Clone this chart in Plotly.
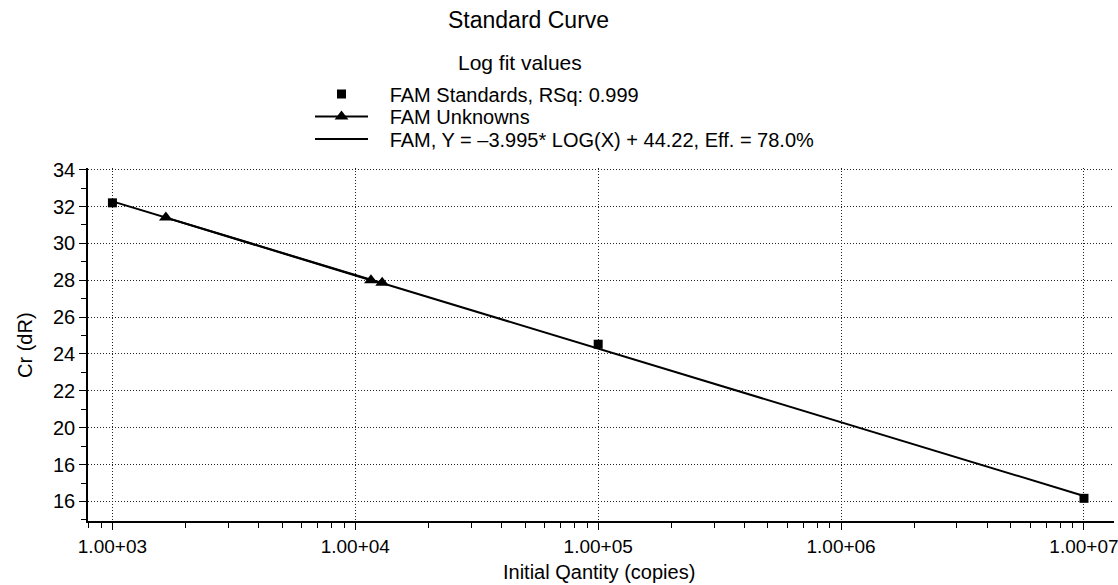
import plotly.graph_objects as go

# ---- data ----
standards_x = [1e3, 1e5, 1e7]
standards_y = [32.2, 24.53, 16.17]

unknowns_x = [1.66e3, 1.16e4, 1.29e4]
unknowns_y = [31.4, 28.0, 27.87]

fit_x = [1e3, 1e7]
fit_y = [32.28, 16.30]

x_tickvals = [1e3, 1e4, 1e5, 1e6, 1e7]
x_ticktext = ["1.00+03", "1.00+04", "1.00+05", "1.00+06", "1.00+07"]
x_minor = [m * d for d in [1e2, 1e3, 1e4, 1e5, 1e6, 1e7] for m in range(2, 10)]

y_tickvals = [16, 18, 20, 22, 24, 26, 28, 30, 32, 34]
y_ticktext = ["16", "16", "20", "22", "24", "26", "28", "30", "32", "34"]
y_minor = [15, 17, 19, 21, 23, 25, 27, 29, 31, 33]

FONT = "Liberation Sans, Arial, sans-serif"
NB = "\u00a0\u00a0\u00a0"

# body margin is removed in the page, so figure pixels == reference pixels
OFF = 0
W, H = 1118 - OFF, 585 - OFF
PLOT_L, PLOT_R, PLOT_T, PLOT_B = 88, 1114, 168, 521   # reference pixels
L = PLOT_L - OFF
T = PLOT_T - OFF
R = W - (PLOT_R - OFF)
B = H - (PLOT_B - OFF)
PW = W - L - R
PH = H - T - B


def px_x(px):
    return (px - OFF - L) / PW


def px_y(py):
    return 1 + (T - (py - OFF)) / PH


fig = go.Figure()

fig.add_trace(go.Scatter(
    x=fit_x, y=fit_y, mode="lines",
    name=NB + "FAM, Y = \u20133.995* LOG(X) + 44.22, Eff. = 78.0%",
    line=dict(color="black", width=2),
    legend="legend3",
))
fig.add_trace(go.Scatter(
    x=unknowns_x, y=unknowns_y, mode="lines+markers",
    name=NB + "FAM Unknowns",
    line=dict(color="black", width=2),
    marker=dict(symbol="triangle-up", size=12, color="black"),
    legend="legend2",
))
fig.add_trace(go.Scatter(
    x=standards_x, y=standards_y, mode="markers",
    name=NB + "FAM Standards, RSq: 0.999",
    marker=dict(symbol="square", size=9, color="black"),
    legend="legend",
))

leg_common = dict(
    xanchor="left", yanchor="middle",
    bgcolor="rgba(0,0,0,0)", borderwidth=0,
    font=dict(family=FONT, size=20, color="black"),
    itemwidth=53,
)

LEGX = px_x(310)


def ann(text, x, y, size, angle=0):
    return dict(text=text, xref="paper", yref="paper", x=x, y=y,
                xanchor="center", yanchor="middle", showarrow=False, textangle=angle,
                font=dict(family=FONT, size=size, color="black"))


fig.update_layout(
    width=W, height=H,
    margin=dict(l=L, r=R, t=T, b=B, autoexpand=False),
    paper_bgcolor="white", plot_bgcolor="white",
    font=dict(family=FONT, size=20, color="black"),
    showlegend=True,
    legend=dict(x=LEGX, y=px_y(94), **leg_common),
    legend2=dict(x=LEGX, y=px_y(116.5), **leg_common),
    legend3=dict(x=LEGX, y=px_y(139), **leg_common),
    annotations=[
        ann("Standard Curve", px_x(528), px_y(20), 23),
        ann("Log fit values", px_x(520), px_y(63), 21),
        ann("Initial Qantity (copies)", px_x(599), px_y(572), 20),
        ann("Cr (dR)", px_x(25), px_y(345), 20, -90),
    ],
)

fig.update_xaxes(
    type="log", range=[2.8995, 7.1236], automargin=False,
    tickmode="array", tickvals=x_tickvals, ticktext=x_ticktext,
    ticklabeloverflow="allow",
    ticks="outside", ticklen=7, tickwidth=1, tickcolor="black",
    tickfont=dict(family=FONT, size=19, color="black"),
    showline=True, linecolor="black", linewidth=2,
    showgrid=True, gridcolor="#222", gridwidth=1, griddash="1px,2px",
    zeroline=False,
    minor=dict(tickvals=x_minor, ticks="outside", ticklen=5, tickcolor="black", showgrid=False),
)
fig.update_yaxes(
    range=[14.94, 34.09], automargin=False,
    tickmode="array", tickvals=y_tickvals, ticktext=y_ticktext,
    ticklabeloverflow="allow",
    ticks="outside", ticklen=7, tickwidth=1, tickcolor="black",
    tickfont=dict(family=FONT, size=20, color="black"),
    showline=True, linecolor="black", linewidth=1.5,
    showgrid=True, gridcolor="#222", gridwidth=1, griddash="1px,2px",
    zeroline=False,
    minor=dict(tickvals=y_minor, ticks="outside", ticklen=5, tickcolor="black", showgrid=False),
)

fig.write_html(
    "out.html",
    config={"displayModeBar": False},
    post_script="document.body.style.margin='0';document.body.style.overflow='hidden';",
)
